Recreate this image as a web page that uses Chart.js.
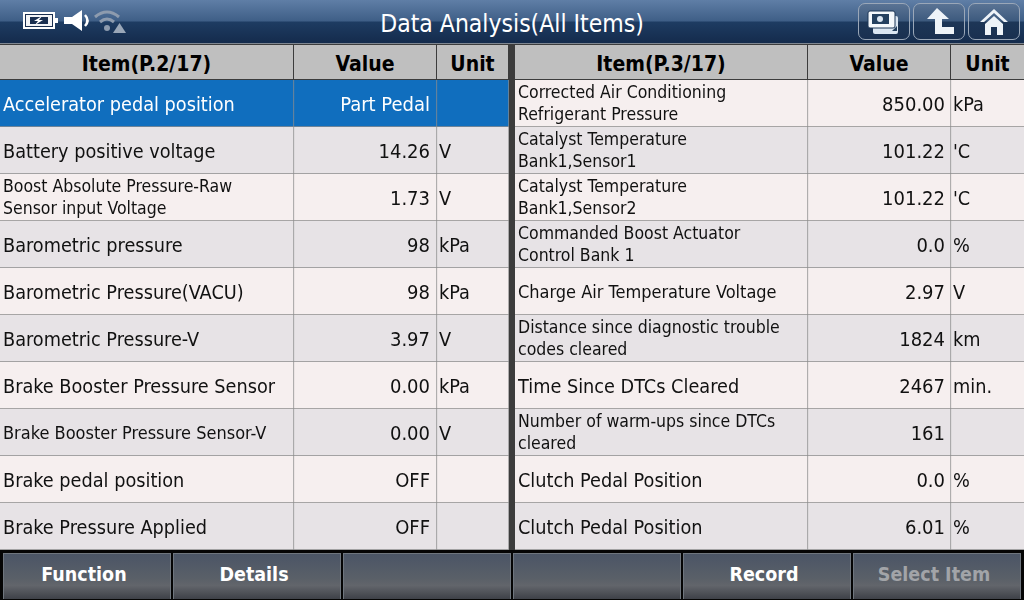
<!DOCTYPE html>
<html>
<head>
<meta charset="utf-8">
<title>Data Analysis(All Items)</title>
<script src="https://cdn.jsdelivr.net/npm/chart.js@4"></script>
<style>
  html, body { margin: 0; padding: 0; background: #3c3c3c; overflow: hidden; }
  body { width: 1024px; height: 600px; position: relative; font-family: "DejaVu Sans Condensed", "DejaVu Sans", sans-serif; }
  #topbar { position: absolute; left: 0; top: 0; width: 1024px; height: 44px;
    background: linear-gradient(#5f7ea6 0, #3f5f87 21px, #1e3c62 22px, #142b4c 43px); border-bottom: 1px solid #7f8791; box-sizing: border-box; }
  #title { position: absolute; left: 0; top: 7px; width: 1024px; text-align: center; color: #fff; font-size: 24.5px; line-height: 34px; }
  .icon { position: absolute; }
  .topbtn { position: absolute; top: 3px; width: 52px; height: 37px; box-sizing: border-box; border: 1px solid #9aa7b8; border-radius: 7px;
    background: linear-gradient(#5a7394 0, #3d5a7e 48%, #1d3657 52%, #1a3050 100%); }
  .head { position: absolute; top: 45px; height: 34px; line-height: 38px; background: #bfbfbf; color: #000; font-weight: bold; font-size: 21px; text-align: center; }
  canvas { position: absolute; top: 80px; }
  #footer { position: absolute; left: 0; top: 550px; width: 1024px; height: 50px; background: #050505; }
  .btn { position: absolute; top: 3px; width: 168px; height: 46px; box-sizing: border-box; border: 1px solid #6f767e; border-bottom: none; padding-right: 6px;
    background: linear-gradient(#4b5566 0, #5a6068 55%, #62656b 70%, #3e4148 100%); color: #fff; font-weight: bold; font-size: 19.5px; line-height: 42px; text-align: center; }
  .btn.off { color: #a2a4a8; }
</style>
</head>
<body>
<div id="topbar">
  <svg class="icon" style="left:22px;top:10px" width="106" height="24" viewBox="0 0 106 24">
    <rect x="2" y="3" width="30" height="15" fill="#1a2f50" stroke="#fff" stroke-width="2"/>
    <rect x="33" y="8" width="3" height="5" fill="#fff"/>
    <polygon points="4,5 30,5 30,16 4,16" fill="#fff" opacity="0.95"/>
    <polygon points="8,7 26,7 26,14 8,14" fill="#1a2f50"/>
    <polygon points="20,6 12,11 16,11 13,15 21,10 17,10" fill="#fff"/>
    <polygon points="42,7 50,7 60,0 60,21 50,14 42,14" fill="#fff"/>
    <path d="M63 5 Q68 10.500 63 16" fill="none" stroke="#fff" stroke-width="2.500"/>
    <path d="M73 7 Q85 -3 97 7" fill="none" stroke="#8d9bae" stroke-width="3"/>
    <path d="M78 12 Q85 6 92 12" fill="none" stroke="#8d9bae" stroke-width="3"/>
    <circle cx="85" cy="18" r="3" fill="#8d9bae"/>
    <polygon points="91,23 104,23 97.500,13" fill="#9aa7b8"/>
  </svg>
  <div id="title">Data Analysis(All Items)</div>
  <div class="topbtn" style="left:858px">
    <svg width="50" height="35" viewBox="0 0 50 35">
      <rect x="14" y="12" width="25" height="18" rx="2" fill="#dbe6f2"/>
      <rect x="9" y="7" width="27" height="17" rx="2" fill="#f4f8fc" stroke="#1d3657" stroke-width="1"/>
      <rect x="13" y="10" width="17" height="10" fill="#24405f"/>
      <circle cx="21" cy="15" r="3" fill="#dbe6f2"/>
      <polygon points="33,27 38,27 38,22" fill="#24405f"/>
    </svg>
  </div>
  <div class="topbtn" style="left:913px">
    <svg width="50" height="35" viewBox="0 0 50 35">
      <polygon points="23,4 35,15 28,15 28,23 40,23 40,30 21,30 21,15 13,15" fill="#eef3f8"/>
    </svg>
  </div>
  <div class="topbtn" style="left:968px">
    <svg width="50" height="35" viewBox="0 0 50 35">
      <polygon points="25,5 39,18 35,18 25,9 15,18 11,18" fill="#eef3f8"/>
      <polygon points="25,12 34,20 34,31 28,31 28,23 22,23 22,31 16,31 16,20" fill="#eef3f8"/>
    </svg>
  </div>
</div>

<div class="head" style="left:0;width:293px">Item(P.2/17)</div>
<div class="head" style="left:294px;width:142px">Value</div>
<div class="head" style="left:437px;width:71px">Unit</div>
<div class="head" style="left:515px;width:292px">Item(P.3/17)</div>
<div class="head" style="left:808px;width:142px">Value</div>
<div class="head" style="left:951px;width:73px">Unit</div>

<canvas id="left-table" width="509" height="470" style="left:0"></canvas>
<canvas id="right-table" width="509" height="470" style="left:515px"></canvas>

<div id="footer">
  <div class="btn" style="left:3px">Function</div>
  <div class="btn" style="left:173px">Details</div>
  <div class="btn" style="left:343px"></div>
  <div class="btn" style="left:513px"></div>
  <div class="btn" style="left:683px">Record</div>
  <div class="btn off" style="left:853px">Select Item</div>
</div>

<script>
const itemsLeft = [
  "Accelerator pedal position",
  "Battery positive voltage",
  ["Boost Absolute Pressure-Raw", "Sensor input Voltage"],
  "Barometric pressure",
  "Barometric Pressure(VACU)",
  "Barometric Pressure-V",
  "Brake Booster Pressure Sensor",
  "Brake Booster Pressure Sensor-V",
  "Brake pedal position",
  "Brake Pressure Applied"
];
const valuesLeft = ["Part Pedal", "14.26", "1.73", "98", "98", "3.97", "0.00", "0.00", "OFF", "OFF"];
const unitsLeft = ["", "V", "V", "kPa", "kPa", "V", "kPa", "V", "", ""];

const itemsRight = [
  ["Corrected Air Conditioning", "Refrigerant Pressure"],
  ["Catalyst Temperature", "Bank1,Sensor1"],
  ["Catalyst Temperature", "Bank1,Sensor2"],
  ["Commanded Boost Actuator", "Control Bank 1"],
  "Charge Air Temperature Voltage",
  ["Distance since diagnostic trouble", "codes cleared"],
  "Time Since DTCs Cleared",
  ["Number of warm-ups since DTCs", "cleared"],
  "Clutch Pedal Position",
  "Clutch Pedal Position"
];
const valuesRight = ["850.00", "101.22", "101.22", "0.0", "2.97", "1824", "2467", "161", "0.0", "6.01"];
const unitsRight = ["kPa", "'C", "'C", "%", "V", "km", "min.", "", "%", "%"];

const columnNames = ["Item", "Value", "Unit"];
const columnWidthsLeft = [294, 143, 72];
const columnWidthsRight = [293, 143, 73];
const fontName = '"DejaVu Sans Condensed", "DejaVu Sans", sans-serif';

// writes the cell texts on top of the bars, cell edges come from the bar elements
const cellText = {
  id: "cellText",
  afterDatasetsDraw(chart, args, opts) {
    const ctx = chart.ctx;
    ctx.save();
    ctx.textBaseline = "middle";
    opts.columns.forEach((col, c) => {
      chart.getDatasetMeta(c).data.forEach((bar, i) => {
        const text = col[i];
        if (!text) return;
        ctx.fillStyle = i === opts.selected ? "#ffffff" : "#111111";
        const inset = c === 2 ? 2 : 3;
        if (c === 1) {
          ctx.textAlign = "right";
          ctx.font = "20px " + fontName;
          ctx.fillText(text, bar.x - opts.valueInset, bar.y + 2);
        } else if (Array.isArray(text)) {
          ctx.textAlign = "left";
          ctx.font = "17.5px " + fontName;
          ctx.fillText(text[0], bar.base + inset, bar.y - 10);
          ctx.fillText(text[1], bar.base + inset, bar.y + 12);
        } else {
          ctx.textAlign = "left";
          ctx.font = (text.length > 29 ? "18px " : "19.7px ") + fontName;
          ctx.fillText(text, bar.base + inset, bar.y + 2);
        }
      });
    });
    ctx.restore();
  }
};

function makeTable(canvasId, items, values, units, widths, selected, valueInset, edgeLine) {
  const rowNames = items.map(it => Array.isArray(it) ? it.join(" ") : it);
  const rowColor = ctx => {
    if (ctx.dataIndex === selected) return "#106ebe";
    return ctx.dataIndex % 2 === 0 ? "#f6efef" : "#e7e3e6";
  };
  return new Chart(document.getElementById(canvasId), {
    type: "bar",
    data: {
      labels: rowNames,
      datasets: columnNames.map((name, c) => ({
        label: name,
        data: rowNames.map(() => widths[c]),
        backgroundColor: rowColor,
        borderColor: "#8c8c8c",
        borderWidth: { right: c < 2 || edgeLine ? 1 : 0, bottom: 1, top: 0, left: 0 },
        borderSkipped: false,
        barPercentage: 1,
        categoryPercentage: 1
      }))
    },
    options: {
      indexAxis: "y",
      responsive: false,
      animation: false,
      devicePixelRatio: 1,
      layout: { padding: 0 },
      scales: {
        x: { stacked: true, display: false, min: 0, max: widths[0] + widths[1] + widths[2] },
        y: { stacked: true, display: false }
      },
      plugins: {
        legend: { display: false },
        tooltip: { enabled: false },
        cellText: { columns: [items, values, units], selected: selected, valueInset: valueInset }
      }
    },
    plugins: [cellText]
  });
}

makeTable("left-table", itemsLeft, valuesLeft, unitsLeft, columnWidthsLeft, 0, 7, true);
makeTable("right-table", itemsRight, valuesRight, unitsRight, columnWidthsRight, -1, 6, false);
</script>
</body>
</html>
